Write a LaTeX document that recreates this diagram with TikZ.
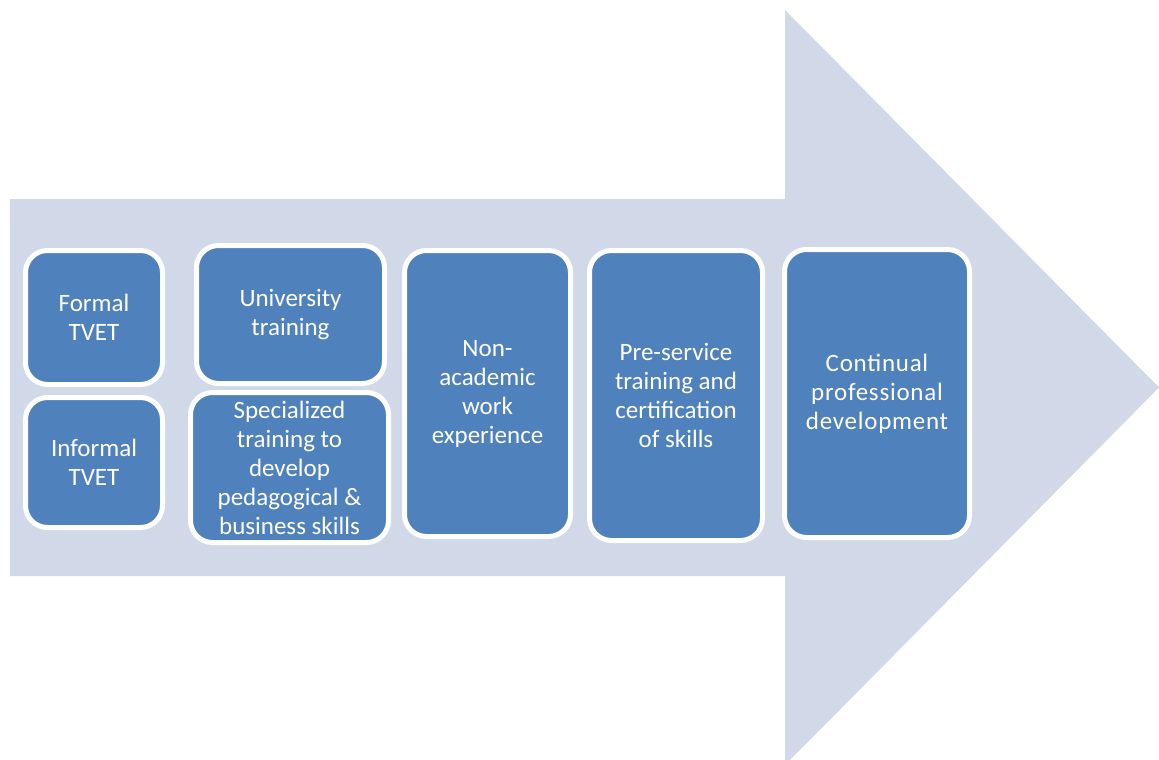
\documentclass[tikz,border=0pt]{standalone}
\usepackage{fontspec}
\setmainfont{Carlito}
\newfontfamily\widefont[LetterSpace=3]{Carlito}
\definecolor{arrowfill}{HTML}{D1D9E8}
\definecolor{boxfill}{HTML}{4F81BD}
\begin{document}
\begin{tikzpicture}[x=1pt,y=-1pt,
  stagebox/.style={draw=white, line width=5pt, fill=boxfill, rounded corners=22pt,
    text=white, align=center, font=\fontsize{25}{29}\selectfont, inner sep=0pt}]
\useasboundingbox (0,0) rectangle (1159,760);
\clip (0,0) rectangle (1159,760);
\fill[arrowfill] (10,199) -- (785,199) -- (785,10) -- (1159,387.5) -- (785,765) -- (785,576) -- (10,576) -- cycle;
\node[stagebox, minimum width=137pt, minimum height=134pt] (formal) at (94,317.5) {Formal\\TVET};
\node[stagebox, minimum width=137pt, minimum height=130pt] (informal) at (94,462.5) {Informal\\TVET};
\node[stagebox, minimum width=188pt, minimum height=138pt] (univ) at (290.5,314.5) {University\\training};
\node[stagebox, minimum width=198pt, minimum height=150pt] (spec) at (289.5,467.5) {Specialized\\training to\\develop\\pedagogical \&\\business skills};
\node[stagebox, minimum width=166pt, minimum height=286pt] (nonacad) at (487.5,393.5) {Non-\\academic\\work\\experience};
\node[stagebox, minimum width=173pt, minimum height=290pt] (preserv) at (676,395.5) {Pre-service\\training and\\certification\\of skills};
\node[stagebox, minimum width=185pt, minimum height=288pt, font=\widefont\fontsize{25}{29}\selectfont] (cpd) at (877,393.5) {Continual\\professional\\development};
\end{tikzpicture}
\end{document}
